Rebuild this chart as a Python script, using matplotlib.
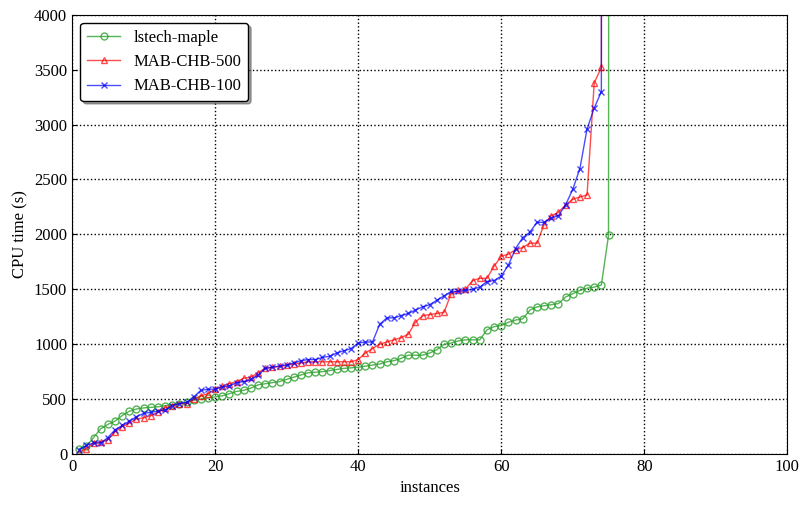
import matplotlib
matplotlib.use("Agg")
import matplotlib.pyplot as plt

plt.rcParams['font.family'] = ['Liberation Serif', 'DejaVu Serif']
plt.rcParams['mathtext.fontset'] = 'stix'

lstech = [50,70,150,230,270,300,350,390,410,420,425,430,440,450,460,470,490,500,510,520,530,550,570,580,600,630,640,650,660,680,700,720,740,745,750,760,770,780,785,790,800,810,820,840,850,870,900,900,900,920,950,1000,1010,1030,1040,1040,1040,1130,1160,1170,1200,1220,1230,1310,1340,1350,1360,1370,1430,1460,1490,1510,1520,1540,1990,100000]
mab500 = [20,50,100,110,130,200,250,280,320,330,350,380,420,440,460,460,500,530,550,590,620,640,660,690,700,740,780,790,800,810,820,830,840,840,840,840,840,840,840,860,920,960,1000,1020,1040,1060,1090,1200,1260,1270,1280,1290,1460,1490,1500,1580,1600,1600,1710,1800,1820,1860,1880,1920,1920,2090,2170,2200,2270,2320,2340,2360,3380,3520,100000]
mab100 = [40,80,100,100,150,220,260,300,340,370,380,390,400,440,460,470,520,580,590,590,610,620,650,660,680,720,780,790,800,810,830,850,860,860,880,890,920,940,960,1010,1020,1020,1180,1240,1240,1260,1280,1310,1340,1360,1400,1440,1480,1480,1490,1500,1520,1570,1580,1620,1720,1870,1970,2020,2110,2110,2150,2170,2270,2410,2600,2960,3150,3300,100000]

fig, ax = plt.subplots(figsize=(8.1, 5.09), dpi=100)
fig.subplots_adjust(left=0.089, right=0.972, top=0.971, bottom=0.108)

ax.plot(range(1, len(lstech)+1), lstech, color='#2ca02c', alpha=0.8, lw=1, marker='o', ms=5, mfc='none', label='lstech-maple')
ax.plot(range(1, len(mab500)+1), mab500, color='red', alpha=0.7, lw=1, marker='^', ms=5, mfc='none', label='MAB-CHB-500')
ax.plot(range(1, len(mab100)+1), mab100, color='blue', alpha=0.7, lw=1, marker='x', ms=5, label='MAB-CHB-100')

ax.set_xlim(0, 100)
ax.set_ylim(0, 4000)
ax.set_xlabel('instances', fontsize=12)
ax.set_ylabel('CPU time (s)', fontsize=12)
ax.tick_params(labelsize=12, direction='in')
ax.grid(True, color='black', linestyle=':', lw=1)
leg = ax.legend(loc='upper left', fontsize=12, shadow=True, fancybox=True, edgecolor='black', framealpha=1)
fig.savefig('out.png')
